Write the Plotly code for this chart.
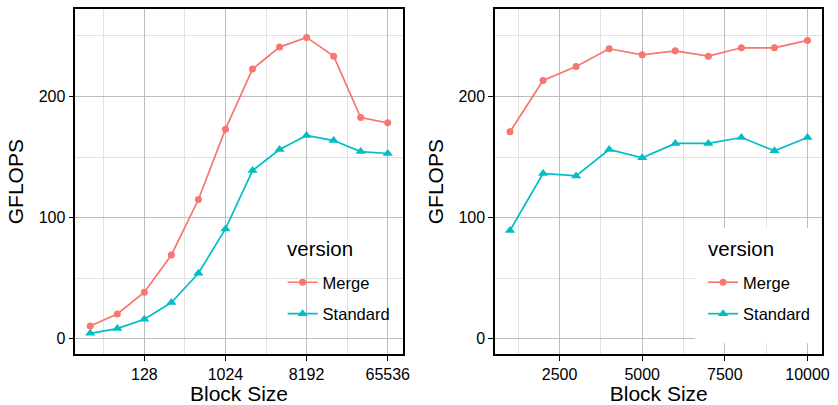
import plotly.graph_objects as go

# Left panel (log2 block sizes)
left_block = [32, 64, 128, 256, 512, 1024, 2048, 4096, 8192, 16384, 32768, 65536]
left_merge = [10.5, 20.4, 38.3, 69.1, 114.9, 173.0, 222.6, 240.8, 248.8, 233.3, 182.6, 178.2]
left_standard = [4.4, 8.3, 16.0, 29.8, 54.0, 90.6, 138.8, 156.2, 167.8, 163.6, 154.5, 152.9]
left_ticks = [128, 1024, 8192, 65536]
left_tick_text = ["128", "1024", "8192", "65536"]

# Right panel (linear block sizes)
right_block = [1000, 2000, 3000, 4000, 5000, 6000, 7000, 8000, 9000, 10000]
right_merge = [170.8, 213.2, 224.8, 239.4, 234.4, 237.7, 233.3, 240.2, 240.2, 246.3]
right_standard = [89.3, 136.4, 134.4, 156.2, 149.3, 161.2, 161.2, 166.1, 155.1, 166.1]
right_ticks = [2500, 5000, 7500, 10000]
right_tick_text = ["2500", "5000", "7500", "10000"]

y_ticks = [0, 100, 200]
series_names = ["Merge", "Standard"]
legend_title = "version"

MERGE_COLOR = "#F8766D"
STD_COLOR = "#00BFC4"
FONT = "Liberation Sans"

fig = go.Figure()

def add_series(x, y, name, color, symbol, size, xa, ya, legend):
    fig.add_trace(go.Scatter(
        x=x, y=y, name=name, mode="lines+markers",
        line=dict(color=color, width=1.7),
        marker=dict(color=color, symbol=symbol, size=size),
        xaxis=xa, yaxis=ya, legend=legend, legendgroup=legend + name,
    ))

add_series(left_block, left_merge, series_names[0], MERGE_COLOR, "circle", 7, "x", "y", "legend")
add_series(left_block, left_standard, series_names[1], STD_COLOR, "triangle-up", 9, "x", "y", "legend")
add_series(right_block, right_merge, series_names[0], MERGE_COLOR, "circle", 7, "x2", "y2", "legend2")
add_series(right_block, right_standard, series_names[1], STD_COLOR, "triangle-up", 9, "x2", "y2", "legend2")

W, H = 838, 405
ydom = [1 - 354 / H, 1 - 9.3 / H]
L = 0.30103

axis_common = dict(
    showline=True, mirror=True, linecolor="black", linewidth=1.5,
    ticks="outside", ticklen=5, tickcolor="black", tickwidth=1,
    showgrid=True, gridcolor="#bdbdbd", gridwidth=0.8,
    tickfont=dict(family=FONT, size=16, color="black"),
    zeroline=False,
)
minor_common = dict(showgrid=True, gridcolor="#e2e2e2", gridwidth=0.8, ticklen=0)

legend_common = dict(
    bgcolor="rgba(0,0,0,0)", borderwidth=0,
    font=dict(family=FONT, size=16.5, color="black"),
    xanchor="left", yanchor="bottom", itemwidth=30, tracegroupgap=7,
)

# white legend background boxes (cover gridlines, drawn between grid and traces)
fig.add_shape(type="rect", xref="x", yref="y", x0=11.82 * L, x1=16.55 * L, y0=-3.8, y1=91.4,
              fillcolor="white", line=dict(width=0), layer="between")
fig.add_shape(type="rect", xref="x2", yref="y2", x0=6600, x1=10450, y0=-3.8, y1=91.4,
              fillcolor="white", line=dict(width=0), layer="between")

for xpx in [287.5, 711.5]:
    fig.add_annotation(text=legend_title, xref="paper", yref="paper",
                       x=xpx / W, y=1 - 248 / H, xanchor="left", yanchor="middle",
                       showarrow=False, font=dict(family=FONT, size=20.5, color="black"))

fig.update_layout(
    width=W, height=H,
    margin=dict(l=0, r=0, t=0, b=0),
    paper_bgcolor="white", plot_bgcolor="white",
    font=dict(family=FONT, color="black"),
    xaxis=dict(
        domain=[76 / W, 406 / W], type="log",
        range=[4.45 * L, 16.55 * L], anchor="y",
        tickmode="array", tickvals=left_ticks, ticktext=left_tick_text,
        minor=dict(tickvals=[2 ** 5.5, 2 ** 8.5, 2 ** 11.5, 2 ** 14.5], **minor_common),
        title=dict(text="Block Size", font=dict(family=FONT, size=21, color="black"), standoff=7),
        **axis_common,
    ),
    yaxis=dict(
        domain=ydom, range=[-12.7, 272], anchor="x",
        tickmode="array", tickvals=y_ticks, ticktext=[str(v) for v in y_ticks],
        minor=dict(tickvals=[50, 150, 250], **minor_common),
        title=dict(text="GFLOPS", font=dict(family=FONT, size=21, color="black"), standoff=9),
        **axis_common,
    ),
    xaxis2=dict(
        domain=[499.3 / W, 829.3 / W], range=[550, 10450], anchor="y2",
        tickmode="array", tickvals=right_ticks, ticktext=right_tick_text,
        minor=dict(tickvals=[1250, 3750, 6250, 8750], **minor_common),
        title=dict(text="Block Size", font=dict(family=FONT, size=21, color="black"), standoff=7),
        **axis_common,
    ),
    yaxis2=dict(
        domain=ydom, range=[-12.7, 272], anchor="x2",
        tickmode="array", tickvals=y_ticks, ticktext=[str(v) for v in y_ticks],
        minor=dict(tickvals=[50, 150, 250], **minor_common),
        title=dict(text="GFLOPS", font=dict(family=FONT, size=21, color="black"), standoff=9),
        **axis_common,
    ),
    legend=dict(x=285 / W, y=1 - 331 / H, **legend_common),
    legend2=dict(x=709 / W, y=1 - 331 / H, **legend_common),
)

fig.write_html(
    "out.html",
    config={"displayModeBar": False},
    post_script="document.body.style.margin='0';document.body.style.overflow='hidden';",
)
